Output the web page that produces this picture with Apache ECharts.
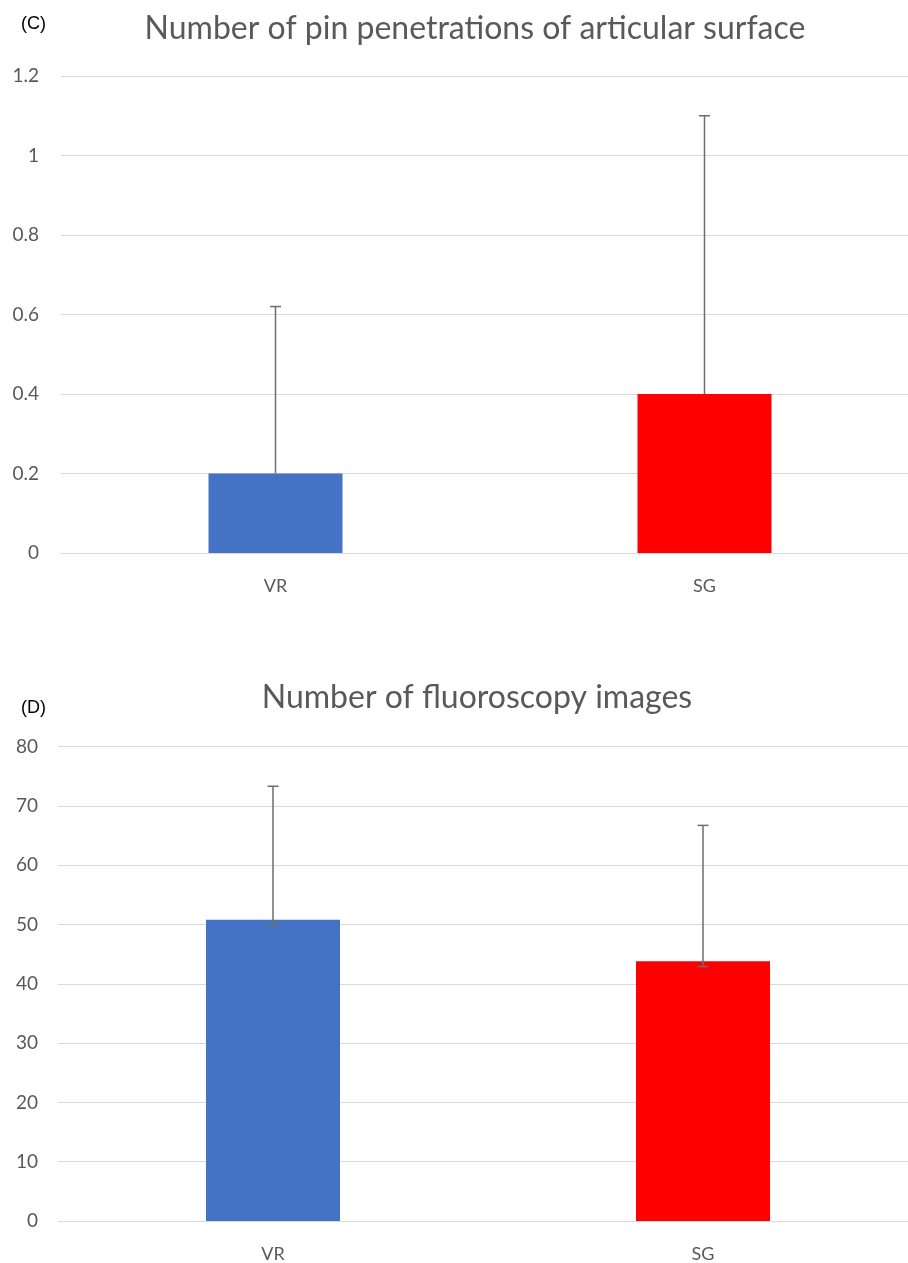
<!DOCTYPE html>
<html>
<head>
<meta charset="utf-8">
<script src="https://cdn.jsdelivr.net/npm/echarts@6/dist/echarts.min.js"></script>
<style>
  html, body { margin: 0; padding: 0; background: #fff; overflow: hidden; }
  #chart { width: 920px; height: 1263px; }
</style>
</head>
<body>
<div id="chart"></div>
<script>
// Group labels shared by both panels
const groups = ['VR', 'SG'];

// Panel C: pin penetrations of articular surface
const pinMeans = [0.2, 0.4];
const pinUpper = [0.62, 1.1];
const pinLower = [null, null];
const pinTicks = { min: 0, max: 1.2, interval: 0.2 };

// Panel D: fluoroscopy images
const fluoroMeans = [50.8, 43.8];
const fluoroUpper = [73.3, 66.7];
const fluoroLower = [49.9, 42.9];
const fluoroTicks = { min: 0, max: 80, interval: 10 };

const barColors = ['#4472C4', '#FF0000'];
const textColor = '#595959';
const gridColor = '#D9D9D9';
const baseFont = 'Lato, "Open Sans", sans-serif';

function errorData(means, lower, upper) {
  return means.map((m, i) => [i, m, lower[i] == null ? m : lower[i], upper[i], lower[i] == null ? 0 : 1]);
}

function renderError(params, api) {
  const x = api.value(0);
  const lo = api.coord([x, api.value(2)]);
  const hi = api.coord([x, api.value(3)]);
  const capHalf = 5.5;
  const style = { stroke: '#6E6E6E', lineWidth: 1.5 };
  const children = [
    { type: 'line', shape: { x1: hi[0], y1: lo[1], x2: hi[0], y2: hi[1] }, style },
    { type: 'line', shape: { x1: hi[0] - capHalf, y1: hi[1], x2: hi[0] + capHalf, y2: hi[1] }, style }
  ];
  if (api.value(4) === 1) {
    children.push({ type: 'line', shape: { x1: lo[0] - capHalf, y1: lo[1], x2: lo[0] + capHalf, y2: lo[1] }, style });
  }
  return { type: 'group', children };
}

function xAxis(gridIndex) {
  return {
    type: 'category', gridIndex, data: groups,
    axisLine: { show: true, lineStyle: { color: gridColor, width: 1 } },
    axisTick: { show: false },
    axisLabel: { color: textColor, fontSize: 18, fontFamily: baseFont, margin: 24 }
  };
}

function yAxis(gridIndex, ticks, margin) {
  return {
    type: 'value', gridIndex, min: ticks.min, max: ticks.max, interval: ticks.interval,
    axisLine: { show: false }, axisTick: { show: false },
    axisLabel: { color: textColor, fontSize: 19, fontFamily: baseFont, margin },
    splitLine: { lineStyle: { color: gridColor, width: 1 } }
  };
}

function barSeries(idx, means) {
  return {
    type: 'bar', xAxisIndex: idx, yAxisIndex: idx, barWidth: 134,
    data: means.map((v, i) => ({ value: v, itemStyle: { color: barColors[i] } })),
    silent: true, animation: false
  };
}

function errSeries(idx, means, lower, upper) {
  return {
    type: 'custom', xAxisIndex: idx, yAxisIndex: idx, z: 5,
    data: errorData(means, lower, upper), renderItem: renderError,
    silent: true, animation: false
  };
}

const chart = echarts.init(document.getElementById('chart'), null, { renderer: 'canvas' });
chart.setOption({
  backgroundColor: '#ffffff',
  animation: false,
  title: [
    { text: 'Number of pin penetrations of articular surface', left: 470, top: 8, textAlign: 'center',
      textStyle: { color: textColor, fontSize: 32, fontWeight: 'normal', fontFamily: baseFont } },
    { text: '(C)', left: 16, top: 10,
      textStyle: { color: '#000', fontSize: 18, fontWeight: 'normal', fontFamily: '"Liberation Sans", Arial, sans-serif' } },
    { text: 'Number of fluoroscopy images', left: 472, top: 677, textAlign: 'center',
      textStyle: { color: textColor, fontSize: 32, fontWeight: 'normal', fontFamily: baseFont } },
    { text: '(D)', left: 16, top: 694,
      textStyle: { color: '#000', fontSize: 18, fontWeight: 'normal', fontFamily: '"Liberation Sans", Arial, sans-serif' } }
  ],
  grid: [
    { left: 61, top: 76, width: 858, height: 477, containLabel: false },
    { left: 58, top: 746.5, width: 860, height: 477.5, containLabel: false }
  ],
  xAxis: [xAxis(0), xAxis(1)],
  yAxis: [yAxis(0, pinTicks, 22), yAxis(1, fluoroTicks, 20)],
  series: [
    barSeries(0, pinMeans),
    errSeries(0, pinMeans, pinLower, pinUpper),
    barSeries(1, fluoroMeans),
    errSeries(1, fluoroMeans, fluoroLower, fluoroUpper)
  ]
});
</script>
</body>
</html>
